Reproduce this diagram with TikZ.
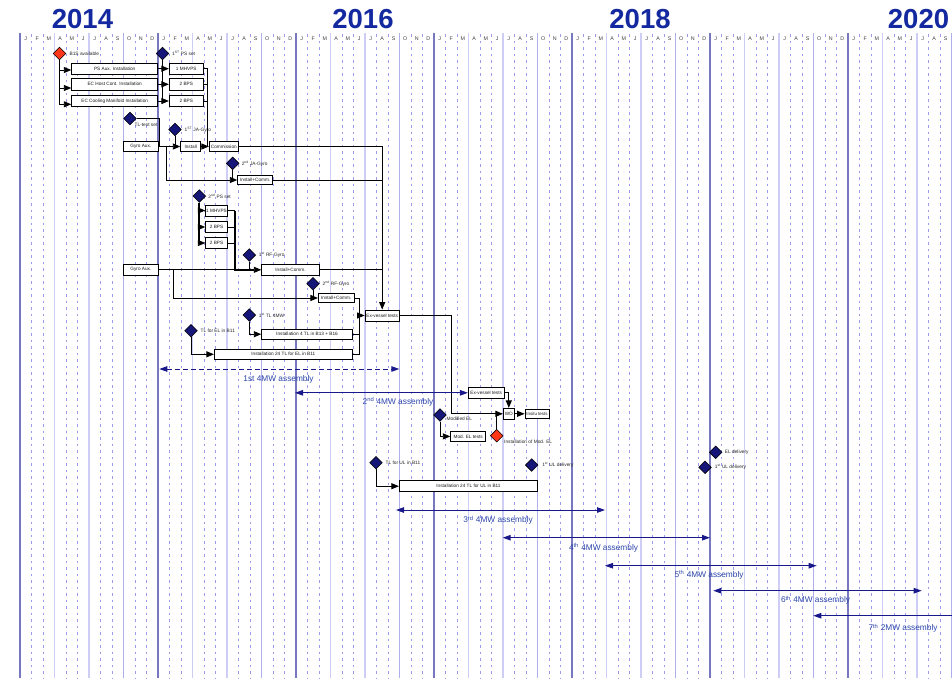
\documentclass[tikz,border=0pt]{standalone}
\usepackage{fontspec}
\setmainfont{Liberation Sans}
\usetikzlibrary{shapes.geometric,arrows.meta}

\definecolor{yearline}{RGB}{120,120,192}
\definecolor{qline}{RGB}{205,205,246}
\definecolor{octline}{RGB}{175,175,236}
\definecolor{mline}{RGB}{155,155,238}
\definecolor{yeartext}{RGB}{20,40,160}
\definecolor{asmline}{RGB}{25,25,140}
\definecolor{asmtext}{RGB}{45,70,170}
\definecolor{msblue}{RGB}{22,22,120}
\definecolor{msred}{RGB}{255,55,25}

\tikzset{
  yearln/.style={draw=yearline, line width=1.6pt},
  octln/.style={draw=octline, line width=1.4pt},
  qln/.style={draw=qline, line width=1.4pt},
  mln/.style={draw=mline, line width=0.9pt, dash pattern=on 2.7pt off 3.8pt},
  yearlbl/.style={anchor=base, inner sep=0pt, text=yeartext, font=\fontsize{27.5}{30}\selectfont\bfseries},
  monthlbl/.style={anchor=base, inner sep=0pt, text=black!75, font=\fontsize{5.3}{6}\selectfont},
  taskbox/.style={draw=black, fill=white, line width=0.8pt, inner sep=0pt, text=black!90, font=\fontsize{4.7}{5}\selectfont},
  mstone/.style={diamond, draw=black, line width=0.6pt, minimum size=12.8pt, inner sep=0pt},
  bluems/.style={mstone, fill=msblue},
  redms/.style={mstone, fill=msred},
  mslabel/.style={anchor=west, inner sep=0pt, text=black!85, font=\fontsize{4.8}{5}\selectfont},
  plainln/.style={draw=black, line width=0.9pt},
  heavy/.style={draw=black, line width=1.8pt},
  conn/.style={plainln, -{Triangle[length=7.5pt,width=6pt]}},
  asm/.style={draw=asmline, line width=1pt, {Triangle[length=8pt,width=5.5pt]}-{Triangle[length=8pt,width=5.5pt]}},
  asmopen/.style={draw=asmline, line width=1pt, {Triangle[length=8pt,width=5.5pt]}-},
  asmlabel/.style={inner sep=0pt, text=asmtext, font=\fontsize{8.3}{9}\selectfont},
}

\begin{document}
\begin{tikzpicture}[x=1pt,y=-1pt]
\useasboundingbox (0,0) rectangle (952,678);
\fill[white] (0,0) rectangle (952,678);

% ---- time grid: one column per month, starting January 2014 ----
\foreach \m in {0,...,81}{
  \pgfmathtruncatemacro\r{mod(\m,12)}
  \pgfmathtruncatemacro\q{mod(\m,3)}
  \pgfmathsetmacro\gx{20+11.5*\m}
  \ifnum\r=0
    \draw[yearln] (\gx,33) -- (\gx,678);
  \else\ifnum\r=9
    \draw[octln] (\gx,33) -- (\gx,678);
  \else\ifnum\q=0
    \draw[qln] (\gx,33) -- (\gx,678);
  \else
    \draw[mln] (\gx,34) -- (\gx,678);
  \fi\fi\fi
}
\foreach \m in {0,...,80}{
  \pgfmathtruncatemacro\r{mod(\m,12)}
  \node[monthlbl] (mon\m) at ({20+11.5*(\m+0.5)},40.2)
    {\ifcase\r J\or F\or M\or A\or M\or J\or J\or A\or S\or O\or N\or D\fi};
}
\node[yearlbl] (y2014) at (82.5,28.3) {2014};
\node[yearlbl] (y2016) at (363,28.3) {2016};
\node[yearlbl] (y2018) at (640,28.3) {2018};
\node[yearlbl] (y2020) at (918.5,28.3) {2020};

% ---- tasks ----
\node[taskbox, minimum width=86pt, minimum height=11.3pt] (bPSaux) at (114.7,68.7) {PS Aux. Installation};
\node[taskbox, minimum width=86pt, minimum height=11.5pt] (bECHC) at (114.7,84.3) {EC Host Cont. Installation};
\node[taskbox, minimum width=86pt, minimum height=11.5pt] (bECCM) at (114.7,101) {EC Cooling Manifold Installation};
\node[taskbox, minimum width=34pt, minimum height=11.3pt] (bMH1) at (186.3,68.7) {1 MHVPS};
\node[taskbox, minimum width=34pt, minimum height=11.5pt] (bBPS1a) at (186.3,84.3) {2 BPS};
\node[taskbox, minimum width=34pt, minimum height=11.5pt] (bBPS1b) at (186.3,101) {2 BPS};

\node[taskbox, minimum width=35pt, minimum height=10.7pt] (bGA1) at (140.8,146.5) {Gyro Aux.};
\node[taskbox, minimum width=20pt, minimum height=10pt] (bInst) at (190.7,146.5) {Install};
\node[taskbox, minimum width=29pt, minimum height=10pt] (bComm) at (223.8,146.5) {Commission};
\node[taskbox, minimum width=35pt, minimum height=8.6pt] (bIC2) at (255.2,180) {Install+Comm.};

\node[taskbox, minimum width=21.6pt, minimum height=11pt] (bMH2) at (216.5,210.5) {1 MHVPS};
\node[taskbox, minimum width=21.6pt, minimum height=10.6pt] (bBPS2a) at (216.5,227) {2 BPS};
\node[taskbox, minimum width=21.6pt, minimum height=10.6pt] (bBPS2b) at (216.5,243) {2 BPS};

\node[taskbox, minimum width=35.2pt, minimum height=11pt] (bGA2) at (140.9,269.8) {Gyro Aux.};
\node[taskbox, minimum width=57.6pt, minimum height=10.8pt] (bRF1) at (290.5,269.8) {Install+Comm.};
\node[taskbox, minimum width=35.7pt, minimum height=9.4pt] (bRF2) at (336.2,298) {Install+Comm.};
\node[taskbox, minimum width=34.3pt, minimum height=11pt] (bEx1) at (382.2,315.5) {Ex-vessel tests};
\node[taskbox, minimum width=90.6pt, minimum height=10.3pt] (bTL4) at (307,334.2) {Installation 4 TL in B13 + B16};
\node[taskbox, minimum width=138pt, minimum height=10pt] (bTL24) at (283.3,354.3) {Installation 24 TL for EL in B11};

\node[taskbox, minimum width=35.7pt, minimum height=11pt] (bEx2) at (486.2,392.8) {Ex-vessel tests};
\node[taskbox, minimum width=11pt, minimum height=11pt] (bWO) at (508.8,413.8) {WO};
\node[taskbox, minimum width=24pt, minimum height=9pt, font=\fontsize{4.4}{5}\selectfont] (bIns) at (537,413.8) {Insitu tests};
\node[taskbox, minimum width=35pt, minimum height=9.3pt] (bMEL) at (468.2,436.4) {Mod. EL tests};
\node[taskbox, minimum width=138.4pt, minimum height=11pt] (bTLUL) at (468.5,486.2) {Installation 24 TL for UL in B11};

% ---- milestones ----
\node[redms] (dB1S) at (59.5,53.5) {};
\node[mslabel] (lB1S) at ([xshift=3.2pt]dB1S.east) {B1S available};
\node[bluems] (dPS1) at (162.5,53.5) {};
\node[mslabel] (lPS1) at ([xshift=2.7pt]dPS1.east) {1\textsuperscript{ST} PS set};
\node[bluems] (dTL) at (130,118.5) {};
\node[mslabel] (lTL) at (134.5,125.3) {TL-test set};
\node[bluems] (dJA1) at (175,129.5) {};
\node[mslabel] (lJA1) at ([xshift=2.7pt]dJA1.east) {1\textsuperscript{ST} JA-Gyro};
\node[bluems] (dJA2) at (232.7,163.3) {};
\node[mslabel] (lJA2) at ([xshift=2.2pt]dJA2.east) {2\textsuperscript{nd} JA-Gyro};
\node[bluems] (dPS2) at (199.3,196) {};
\node[mslabel] (lPS2) at ([xshift=2.2pt]dPS2.east) {2\textsuperscript{nd} PS set};
\node[bluems] (dRF1) at (249.3,255) {};
\node[mslabel] (lRF1) at ([xshift=2.7pt]dRF1.east) {1\textsuperscript{st} RF-Gyro};
\node[bluems] (dRF2) at (313,283.7) {};
\node[mslabel] (lRF2) at ([xshift=2.7pt]dRF2.east) {2\textsuperscript{nd} RF-Gyro};
\node[bluems] (dTL4) at (249.3,315) {};
\node[mslabel] (lTL4) at ([xshift=2.7pt]dTL4.east) {1\textsuperscript{st} TL 4MW};
\node[bluems] (dTLEL) at (191,330.7) {};
\node[mslabel] (lTLEL) at ([xshift=2.7pt]dTLEL.east) {TL for EL in B11};
\node[bluems] (dMEL) at (440,415) {};
\node[mslabel] (lMEL) at (446.5,419.2) {Modified EL};
\node[redms] (dIME) at (496.7,435.7) {};
\node[mslabel] (lIME) at (504,442.2) {Installation of Mod. EL};
\node[bluems] (dTLUL) at (376,462.7) {};
\node[mslabel] (lTLUL) at ([xshift=2.7pt]dTLUL.east) {TL for UL in B11};
\node[bluems] (dUL1) at (531.7,465) {};
\node[mslabel] (lUL1) at ([xshift=3.7pt]dUL1.east) {1\textsuperscript{st} UL delivery};
\node[bluems] (dEL) at (715.7,452.3) {};
\node[mslabel] (lEL) at ([xshift=2.3pt]dEL.east) {EL delivery};
\node[bluems] (dUL1b) at (705,467.3) {};
\node[mslabel] (lUL1b) at ([xshift=3pt]dUL1b.east) {1\textsuperscript{st} UL delivery};

% ---- junctions ----
\coordinate (jComm) at (207.3,146.5);
\coordinate (jTL) at (159.6,146.5);
\coordinate (jGA1) at (166,146.5);
\coordinate (jPS2) at (235,269.8);
\coordinate (jGA2) at (173.3,269.8);
\coordinate (jEx) at (359.3,315.5);
\coordinate (jWO) at (451.7,413.8);

% ---- dependencies ----
\draw[conn] (dB1S.south) |- ([yshift=-1.3pt]bPSaux.west);
\draw[conn] (dB1S.south) |- ([yshift=-3.7pt]bECHC.west);
\draw[conn] (dB1S.south) |- ([yshift=-3.3pt]bECCM.west);

\draw[plainln] (dPS1.south) -- (dPS1 |- bBPS1b.west);
\draw[conn] (bPSaux.east) -- (bMH1.west);
\draw[conn] (bECHC.east) -- (bBPS1a.west);
\draw[conn] (bECCM.east) -- (bBPS1b.west);
\draw[plainln] (bMH1.east) -| (jComm);
\draw[plainln] (bBPS1a.east) -- (bBPS1a.east -| jComm);
\draw[plainln] (bBPS1b.east) -- (bBPS1b.east -| jComm);

\draw[plainln] (dTL.east) -| (jTL);
\draw[conn] (bGA1.east) -- (bInst.west);
\draw[plainln] (dJA1.south) -- (dJA1 |- bInst.west);
\draw[conn] (bInst.east) -- (bComm.west);
\draw[conn] (jGA1) |- (bIC2.west);
\draw[plainln] (dJA2.south) -- (dJA2 |- bIC2.west);
\draw[conn] (bComm.east) -| (bEx1.north);
\draw[plainln] (bIC2.east) -- (bIC2.east -| bEx1.north);

\draw[heavy] (dPS2.south) -- (dPS2 |- bBPS2b.west);
\draw[conn] (dPS2 |- bMH2.west) -- (bMH2.west);
\draw[conn] (dPS2 |- bBPS2a.west) -- (bBPS2a.west);
\draw[conn] (dPS2 |- bBPS2b.west) -- (bBPS2b.west);
\draw[plainln] (bMH2.east) -- (bMH2.east -| jPS2);
\draw[plainln] (bBPS2a.east) -- (bBPS2a.east -| jPS2);
\draw[plainln] (bBPS2b.east) -- (bBPS2b.east -| jPS2);
\draw[heavy] (bMH2.east -| jPS2) -- (jPS2) -- ([xshift=-7pt]bRF1.west);

\draw[conn] (bGA2.east) -- (bRF1.west);
\draw[plainln] (dRF1.south) -- (dRF1 |- bRF1.west);
\draw[conn] (jGA2) |- (bRF2.west);
\draw[plainln] (dRF2.south) -- (dRF2 |- bRF2.west);
\draw[plainln] (bRF1.east) -- (bRF1.east -| bEx1.north);

\draw[plainln] (bRF2.east) -| (jEx);
\draw[plainln] (bTL4.east) -| (jEx);
\draw[plainln] (bTL24.east) -| (jEx);
\draw[conn] (jEx) -- (bEx1.west);
\draw[conn] (dTL4.south) |- (bTL4.west);
\draw[conn] (dTLEL.south) |- (bTL24.west);

\draw[plainln] (bEx1.east) -| (jWO);
\draw[conn] (jWO) -- (bWO.west);
\draw[conn] (bEx2.east) -| (bWO.north);
\draw[conn] (bWO.east) -- (bIns.west);
\draw[conn] (dMEL.south) |- (bMEL.west);
\draw[plainln] (dIME.north) -- (dIME |- bWO.west);
\draw[conn] (dTLUL.south) |- (bTLUL.west);

% ---- assembly campaigns ----
\coordinate (a1s) at (159.3,369);
\coordinate (a1e) at (399.3,369);
\coordinate (a2s) at (295,392.8);
\coordinate (a3s) at (396,510);
\coordinate (a3e) at (605,510);
\coordinate (a4s) at (502.7,537.7);
\coordinate (a4e) at (710,537.7);
\coordinate (a5s) at (605,565.7);
\coordinate (a5e) at (816.7,565.7);
\coordinate (a6s) at (713.3,590.7);
\coordinate (a6e) at (921.7,590.7);
\coordinate (a7s) at (813.3,615.7);
\coordinate (a7e) at (953,615.7);

\draw[asm, dash pattern=on 5pt off 3pt] (a1s) -- (a1e);
\draw[asm] (a2s) -- (bEx2.west);
\draw[asm] (a3s) -- (a3e);
\draw[asm] (a4s) -- (a4e);
\draw[asm] (a5s) -- (a5e);
\draw[asm] (a6s) -- (a6e);
\draw[asmopen] (a7s) -- (a7e);

\node[asmlabel] (l1) at (278.5,379.4) {1st 4MW assembly};
\node[asmlabel] (l2) at (398,402) {2\textsuperscript{nd} 4MW assembly};
\node[asmlabel] (l3) at (498,520.3) {3\textsuperscript{rd} 4MW assembly};
\node[asmlabel] (l4) at (603.5,547.5) {4\textsuperscript{th} 4MW assembly};
\node[asmlabel] (l5) at (709,575) {5\textsuperscript{th} 4MW assembly};
\node[asmlabel] (l6) at (815.5,600.3) {6\textsuperscript{th} 4MW assembly};
\node[asmlabel] (l7) at (903,628.3) {7\textsuperscript{th} 2MW assembly};
\end{tikzpicture}
\end{document}
